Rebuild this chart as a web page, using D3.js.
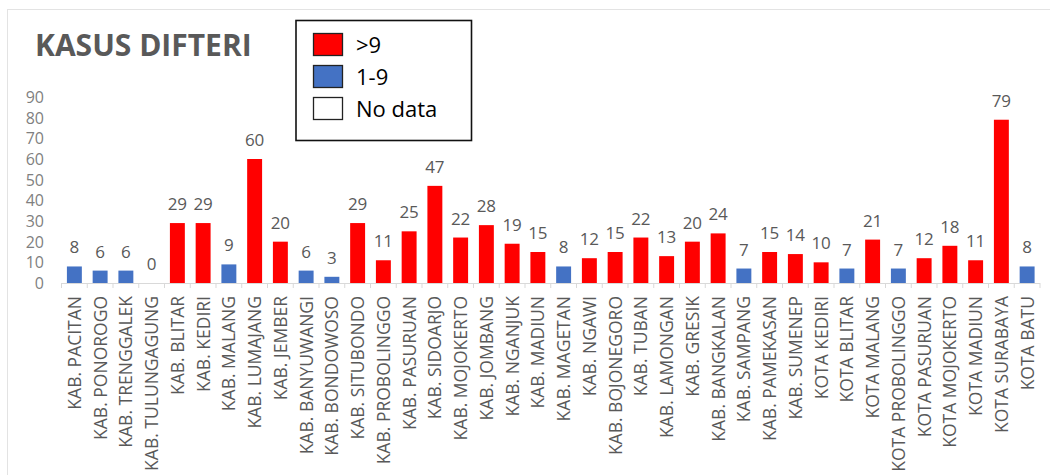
<!DOCTYPE html>
<html>
<head>
<meta charset="utf-8">
<script src="https://cdn.jsdelivr.net/npm/d3@7"></script>
<style>
  html, body { margin: 0; padding: 0; background: #fff; }
  svg { display: block; }
  text { font-family: "Open Sans", "Noto Sans", sans-serif; }
</style>
</head>
<body>
<svg id="chart" width="1050" height="475"></svg>
<script>
// Diphtheria cases per regency / city
const regions = [
  "KAB. PACITAN", "KAB. PONOROGO", "KAB. TRENGGALEK", "KAB. TULUNGAGUNG",
  "KAB. BLITAR", "KAB. KEDIRI", "KAB. MALANG", "KAB. LUMAJANG", "KAB. JEMBER",
  "KAB. BANYUWANGI", "KAB. BONDOWOSO", "KAB. SITUBONDO", "KAB. PROBOLINGGO",
  "KAB. PASURUAN", "KAB. SIDOARJO", "KAB. MOJOKERTO", "KAB. JOMBANG",
  "KAB. NGANJUK", "KAB. MADIUN", "KAB. MAGETAN", "KAB. NGAWI",
  "KAB. BOJONEGORO", "KAB. TUBAN", "KAB. LAMONGAN", "KAB. GRESIK",
  "KAB. BANGKALAN", "KAB. SAMPANG", "KAB. PAMEKASAN", "KAB. SUMENEP",
  "KOTA KEDIRI", "KOTA BLITAR", "KOTA MALANG", "KOTA PROBOLINGGO",
  "KOTA PASURUAN", "KOTA MOJOKERTO", "KOTA MADIUN", "KOTA SURABAYA", "KOTA BATU"
];
const cases = [
  8, 6, 6, 0, 29, 29, 9, 60, 20, 6, 3, 29, 11, 25, 47, 22, 28, 19, 15, 8,
  12, 15, 22, 13, 20, 24, 7, 15, 14, 10, 7, 21, 7, 12, 18, 11, 79, 8
];
const yTicks = [0, 10, 20, 30, 40, 50, 60, 70, 80, 90];
const legendLabels = [">9", "1-9", "No data"];
const legendColors = ["#ff0000", "#4472c4", "#ffffff"];

const svg = d3.select("#chart");

// light frame along the top and left edges
svg.append("line").attr("x1", 7).attr("x2", 1050).attr("y1", 9.5).attr("y2", 9.5)
  .attr("stroke", "#e3e3e3").attr("stroke-width", 1);
svg.append("line").attr("x1", 7.5).attr("x2", 7.5).attr("y1", 9).attr("y2", 475)
  .attr("stroke", "#e3e3e3").attr("stroke-width", 1);

const x = d3.scaleBand().domain(regions).range([61.5, 1040]).paddingInner(0.42).paddingOuter(0.21);
const y = d3.scaleLinear().domain([0, 90]).range([283, 97]);

const colorFor = v => v > 9 ? legendColors[0] : (v >= 1 ? legendColors[1] : legendColors[2]);

// y axis labels (no line)
const yAxis = svg.append("g").attr("transform", "translate(44,0)")
  .call(d3.axisLeft(y).tickValues(yTicks).tickSize(0).tickPadding(0));
yAxis.select(".domain").remove();
yAxis.selectAll("text").attr("fill", "#7f7f7f").attr("font-size", 16)
  .attr("font-family", "'Open Sans', sans-serif").attr("dy", "0.35em");

// x axis baseline with category separators
svg.append("line").attr("x1", 61.5).attr("x2", 1040).attr("y1", 283.5).attr("y2", 283.5)
  .attr("stroke", "#d9d9d9").attr("stroke-width", 1);
const step = x.step();
const start = x(regions[0]) - (step - x.bandwidth()) / 2;
const bounds = d3.range(regions.length + 1).map(i => start + i * step);
svg.append("g").selectAll("line").data(bounds).join("line")
  .attr("x1", d => d).attr("x2", d => d).attr("y1", 283).attr("y2", 288)
  .attr("stroke", "#d9d9d9").attr("stroke-width", 1);

// bars
const data = regions.map((r, i) => ({ region: r, value: cases[i] }));
svg.append("g").selectAll("rect").data(data).join("rect")
  .attr("x", d => x(d.region))
  .attr("width", x.bandwidth())
  .attr("y", d => y(d.value))
  .attr("height", d => y(0) - y(d.value))
  .attr("fill", d => colorFor(d.value));

// value labels
svg.append("g").selectAll("text").data(data).join("text")
  .attr("x", d => x(d.region) + x.bandwidth() / 2)
  .attr("y", d => y(d.value) - 13)
  .attr("text-anchor", "middle")
  .attr("font-size", 17)
  .attr("fill", "#595959")
  .text(d => d.value);

// rotated category labels
svg.append("g").selectAll("text").data(regions).join("text")
  .attr("transform", d => `translate(${x(d) + x.bandwidth() / 2 + 6.5},296) rotate(-90)`)
  .attr("text-anchor", "end")
  .attr("font-size", 17.5)
  .attr("fill", "#595959")
  .text(d => d);

// title
svg.append("text").attr("x", 35).attr("y", 56)
  .attr("font-size", 30).attr("font-weight", 700).attr("fill", "#595959")
  .text("KASUS DIFTERI");

// legend
const lg = svg.append("g");
lg.append("rect").attr("x", 296).attr("y", 20.5).attr("width", 175.5).attr("height", 120)
  .attr("fill", "#fff").attr("stroke", "#111").attr("stroke-width", 1.6);
const items = lg.selectAll("g.item").data(legendLabels).join("g").attr("class", "item")
  .attr("transform", (d, i) => `translate(0,${i * 32})`);
items.append("rect").attr("x", 313.5).attr("y", 33.5).attr("width", 29).attr("height", 22)
  .attr("fill", (d, i) => legendColors[i]).attr("stroke", "#222").attr("stroke-width", 1.3);
items.append("text").attr("x", 356).attr("y", 53)
  .attr("font-size", 22).attr("fill", "#000").text(d => d);
</script>
</body>
</html>
